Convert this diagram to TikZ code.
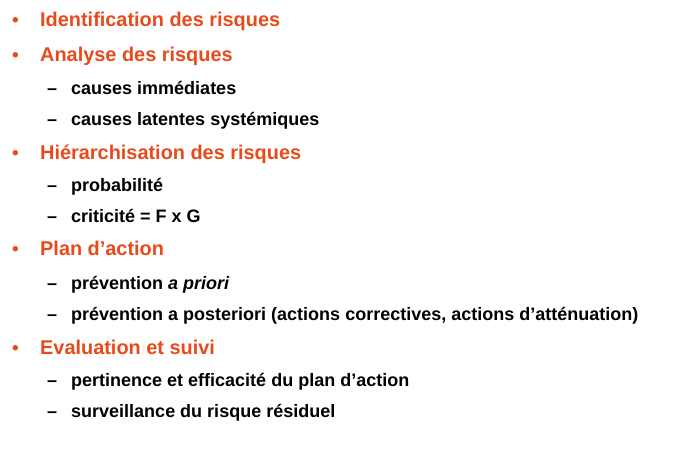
\documentclass[tikz,border=0pt]{standalone}
\usepackage{fontspec}
\setmainfont{Liberation Sans}
\usepackage{tikz}
\definecolor{O}{RGB}{232, 74, 27}

\tikzset{
  titre/.style={anchor=base west, inner sep=0pt, text=O, font=\fontsize{19.9}{20}\selectfont\bfseries},
  puce/.style={anchor=base west, inner sep=0pt, text=O, font=\fontsize{19}{20}\selectfont\bfseries},
  sous/.style={anchor=base west, inner sep=0pt, font=\fontsize{18}{18}\selectfont\bfseries},
  tiret/.style={anchor=base west, inner sep=0pt, font=\fontsize{18}{18}\selectfont\bfseries}
}

\begin{document}
\begin{tikzpicture}[x=1pt, y=-1pt]
   	\useasboundingbox (0,0) rectangle (685,463);

	%Identification
   	\node[puce] (p1) at (12,26) {•};
   	\node[titre] (t1) at (40,26) {Identification des risques};

	%Analyse
   	\node[puce] (p2) at (12,61) {•};
   	\node[titre] (t2) at (40,61) {Analyse des risques};
   	\node[tiret] (d21) at (47,94) {–};
   	\node[sous] (s21) at (71,94) {causes immédiates};
   	\node[tiret] (d22) at (47,125) {–};
   	\node[sous] (s22) at (71,125) {causes latentes systémiques};

	%Hierarchisation
   	\node[puce] (p3) at (12,159) {•};
   	\node[titre] (t3) at (40,159) {Hiérarchisation des risques};
   	\node[tiret] (d31) at (47,191) {–};
   	\node[sous] (s31) at (71,191) {probabilité};
   	\node[tiret] (d32) at (47,222) {–};
   	\node[sous] (s32) at (71,222) {criticité = F x G};

	%Plan d'action
   	\node[puce] (p4) at (12,255) {•};
   	\node[titre] (t4) at (40,255) {Plan d’action};
   	\node[tiret] (d41) at (47,289) {–};
   	\node[sous] (s41) at (71,289) {prévention \textit{a priori}};
   	\node[tiret] (d42) at (47,320) {–};
   	\node[sous] (s42) at (71,320) {prévention a posteriori (actions correctives, actions d’atténuation)};

	%Evaluation
   	\node[puce] (p5) at (12,354) {•};
   	\node[titre] (t5) at (40,354) {Evaluation et suivi};
   	\node[tiret] (d51) at (47,386) {–};
   	\node[sous] (s51) at (71,386) {pertinence et efficacité du plan d’action};
   	\node[tiret] (d52) at (47,417) {–};
   	\node[sous] (s52) at (71,417) {surveillance du risque résiduel};
\end{tikzpicture}
\end{document}
